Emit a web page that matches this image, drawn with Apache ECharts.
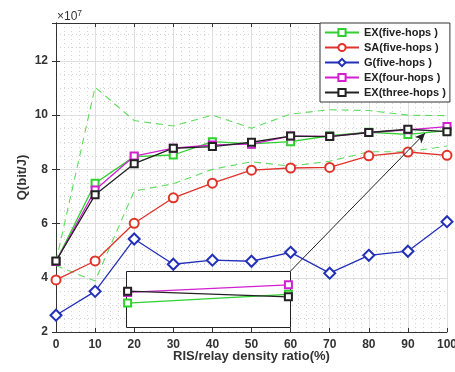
<!DOCTYPE html>
<html><head><meta charset="utf-8">
<script src="https://cdn.jsdelivr.net/npm/echarts@6/dist/echarts.min.js"></script>
<style>html,body{margin:0;padding:0;background:#fff}#c{width:455px;height:372px}</style>
</head><body><div id="c"></div>
<script>
const xVals = [0, 10, 20, 30, 40, 50, 60, 70, 80, 90, 100];
const exFive  = [4.60, 7.49, 8.47, 8.53, 9.02, 8.94, 9.02, 9.24, 9.37, 9.29, 9.43];
const saFive  = [3.92, 4.62, 6.01, 6.95, 7.49, 7.97, 8.05, 8.07, 8.50, 8.64, 8.52];
const gFive   = [2.62, 3.50, 5.43, 4.50, 4.65, 4.61, 4.94, 4.17, 4.83, 4.98, 6.07];
const exFour  = [4.60, 7.24, 8.49, 8.78, 8.90, 8.93, 9.23, 9.22, 9.36, 9.46, 9.58];
const exThree = [4.62, 7.06, 8.21, 8.78, 8.84, 9.00, 9.23, 9.21, 9.36, 9.48, 9.39];
const upperBound = [4.60, 11.03, 9.80, 9.60, 10.00, 9.52, 10.04, 10.20, 10.17, 10.00, 9.98];
const lowerBound = [4.45, 3.88, 7.20, 7.47, 8.00, 8.28, 8.12, 8.30, 8.65, 8.65, 8.86];
const names = ['EX(five-hops )', 'SA(five-hops )', 'G(five-hops )', 'EX(four-hops )', 'EX(three-hops )'];
const arrowFrom = [60, 4.25];
const arrowTo = [94.4, 9.34];

const pair = arr => xVals.map((x, i) => [x, arr[i]]);
const C = { g: '#2ed12e', r: '#e0332b', b: '#2330b8', m: '#d21fd2', k: '#222222', gd: '#5fdc5f' };
const tickFont = { fontFamily: 'Liberation Sans, Arial', fontWeight: 'bold', fontSize: 12, color: '#333' };
const axisLine = { lineStyle: { color: '#333', width: 1 } };
const inset = { left: 126, top: 271, width: 164, height: 56 };

function mainSeries(name, data, color, symbol, size, extra) {
  return Object.assign({
    name, type: 'line', xAxisIndex: 0, yAxisIndex: 0, data: pair(data),
    symbol, symbolSize: size, showAllSymbol: true,
    lineStyle: { color, width: 1.3 }, itemStyle: { color, borderColor: color, borderWidth: 1.2 },
    z: 3, animation: false
  }, extra || {});
}
function insetSeries(data, color) {
  return {
    type: 'line', xAxisIndex: 2, yAxisIndex: 2, data: pair(data), clip: true,
    symbol: 'emptyRect', symbolSize: 7, lineStyle: { color, width: 1.3 },
    itemStyle: { color, borderColor: color, borderWidth: 1.2 }, z: 8, animation: false
  };
}

const chart = echarts.init(document.getElementById('c'), null, { renderer: 'canvas' });
chart.setOption({
  backgroundColor: '#fff',
  animation: false,
  grid: [
    { left: 56, top: 23, right: 8, bottom: 40, show: false, outerBoundsMode: 'none', containLabel: false },
    Object.assign({ show: false, outerBoundsMode: 'none', containLabel: false }, inset)
  ],
  xAxis: [
    { type: 'value', gridIndex: 0, min: 0, max: 100, interval: 10, position: 'bottom',
      axisLine, axisTick: { inside: true, length: 4, lineStyle: { color: '#333' } },
      axisLabel: Object.assign({ margin: 7 }, tickFont),
      splitLine: { show: true, lineStyle: { color: '#dedede', width: 1 } },
      minorTick: { show: false, splitNumber: 5 },
      minorSplitLine: { show: true, lineStyle: { color: '#d4d4d4', type: [1, 3], width: 1 } },
      name: 'RIS/relay density ratio(%)', nameLocation: 'middle', nameGap: 18, nameMoveOverlap: false,
      nameTextStyle: { fontFamily: 'Liberation Sans, Arial', fontWeight: 'bold', fontSize: 13, color: '#333' } },
    { type: 'value', gridIndex: 0, min: 0, max: 100, interval: 10, position: 'top',
      axisLine, axisTick: { inside: true, length: 4, lineStyle: { color: '#333' } },
      axisLabel: { show: false }, splitLine: { show: false } },
    { type: 'value', gridIndex: 1, min: 89.9, max: 100.1, show: false }
  ],
  yAxis: [
    { type: 'value', gridIndex: 0, min: 2, max: 13.4, interval: 2, position: 'left',
      axisLine, axisTick: { inside: true, length: 4, lineStyle: { color: '#333' } },
      axisLabel: Object.assign({ margin: 8, showMaxLabel: false }, tickFont),
      splitLine: { show: true, lineStyle: { color: '#dedede', width: 1 } },
      minorTick: { show: false, splitNumber: 4 },
      minorSplitLine: { show: true, lineStyle: { color: '#d4d4d4', type: [1, 3], width: 1 } },
      name: 'Q(bit/J)', nameLocation: 'middle', nameGap: 27, nameMoveOverlap: false,
      nameTextStyle: { fontFamily: 'Liberation Sans, Arial', fontWeight: 'bold', fontSize: 13, color: '#333' } },
    { type: 'value', gridIndex: 0, min: 2, max: 13.4, interval: 2, position: 'right',
      axisLine, axisTick: { inside: true, length: 4, lineStyle: { color: '#333' } },
      axisLabel: { show: false }, splitLine: { show: false } },
    { type: 'value', gridIndex: 1, min: 8.91, max: 9.8, show: false }
  ],
  legend: {
    data: names, orient: 'vertical', left: 320, top: 23,
    itemWidth: 34, itemHeight: 9, itemGap: 4, padding: [4, 4, 4, 4],
    borderColor: '#333', borderWidth: 1, backgroundColor: '#fff', borderRadius: 0,
    textStyle: { fontFamily: 'Liberation Sans, Arial', fontWeight: 'bold', fontSize: 11, color: '#222', lineHeight: 9.5 },
    z: 10
  },
  graphic: [
    { type: 'text', left: 57, top: 9, z: 10,
      style: { text: '×10{s|7}', rich: { s: { fontSize: 8.5, verticalAlign: 'top', padding: [0, 0, 6, 0], fill: '#333' } },
               font: '12px Liberation Sans, Arial', fill: '#333' } },
    { type: 'rect', left: inset.left, top: inset.top, z: 7, silent: true,
      shape: { width: inset.width, height: inset.height },
      style: { fill: '#fff', stroke: '#222', lineWidth: 1 } }
  ],
  series: [
    mainSeries('upper', upperBound, C.gd, 'none', 0, { lineStyle: { color: C.gd, width: 1.1, type: [7, 5] }, z: 2 }),
    mainSeries('lower', lowerBound, C.gd, 'none', 0, { lineStyle: { color: C.gd, width: 1.1, type: [7, 5] }, z: 2 }),
    mainSeries(names[0], exFive, C.g, 'emptyRect', 7),
    mainSeries(names[1], saFive, C.r, 'emptyCircle', 9),
    mainSeries(names[2], gFive, C.b, 'emptyDiamond', 11),
    mainSeries(names[3], exFour, C.m, 'emptyRect', 7),
    mainSeries(names[4], exThree, C.k, 'emptyRect', 7, {
      markLine: {
        silent: true, symbol: ['none', 'arrow'], symbolSize: [7, 10],
        lineStyle: { color: '#222', width: 1, type: 'solid' }, label: { show: false },
        data: [[{ coord: arrowFrom }, { coord: arrowTo }]]
      }
    }),
    insetSeries(exFive, C.g),
    insetSeries(exFour, C.m),
    insetSeries(exThree, C.k)
  ]
});
</script>
</body></html>
